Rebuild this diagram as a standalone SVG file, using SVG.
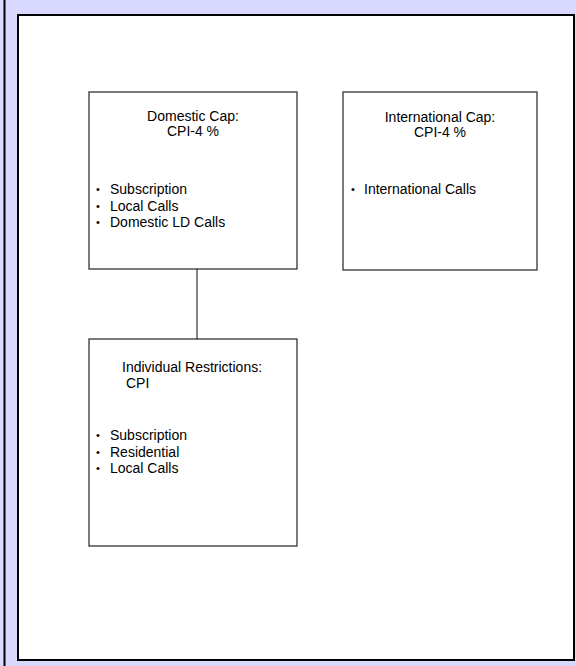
<svg xmlns="http://www.w3.org/2000/svg" width="576" height="666" viewBox="0 0 576 666">
<style>
.box{fill:#fff;stroke:#222;stroke-width:1.2}
.t{font-family:"Liberation Sans",Arial,sans-serif;font-size:14px;fill:#000}
.b{font-family:"Liberation Sans",Arial,sans-serif;font-size:11px;fill:#000}
.c{text-anchor:middle}
.conn{stroke:#333;stroke-width:1.2;fill:none}
</style>
<rect x="0" y="0" width="576" height="666" fill="#D9D9FF"/>
<line x1="4.5" y1="0" x2="4.5" y2="666" stroke="#000" stroke-width="2"/>
<rect x="18" y="15" width="556" height="645" fill="#fff" stroke="#000" stroke-width="2"/>
<g id="connectors">
<line class="conn" x1="197" y1="269" x2="197" y2="339"/>
</g>
<g id="domestic">
<rect class="box" x="89" y="92" width="208" height="177"/>
<text class="t c" x="193" y="121">Domestic Cap:</text>
<text class="t c" x="193" y="136">CPI-4 %</text>
<text class="b" x="96" y="193">•</text>
<text class="t" x="110" y="194">Subscription</text>
<text class="b" x="96" y="210">•</text>
<text class="t" x="110" y="211">Local Calls</text>
<text class="b" x="96" y="226">•</text>
<text class="t" x="110" y="227">Domestic LD Calls</text>
</g>
<g id="international">
<rect class="box" x="343" y="92" width="194" height="178"/>
<text class="t c" x="440" y="122">International Cap:</text>
<text class="t c" x="440" y="137">CPI-4 %</text>
<text class="b" x="351" y="193">•</text>
<text class="t" x="364" y="194">International Calls</text>
</g>
<g id="individual">
<rect class="box" x="89" y="339" width="208" height="207"/>
<text class="t" x="122" y="372">Individual Restrictions:</text>
<text class="t" x="126" y="388">CPI</text>
<text class="b" x="96" y="439">•</text>
<text class="t" x="110" y="440">Subscription</text>
<text class="b" x="96" y="456">•</text>
<text class="t" x="110" y="457">Residential</text>
<text class="b" x="96" y="472">•</text>
<text class="t" x="110" y="473">Local Calls</text>
</g>
</svg>
